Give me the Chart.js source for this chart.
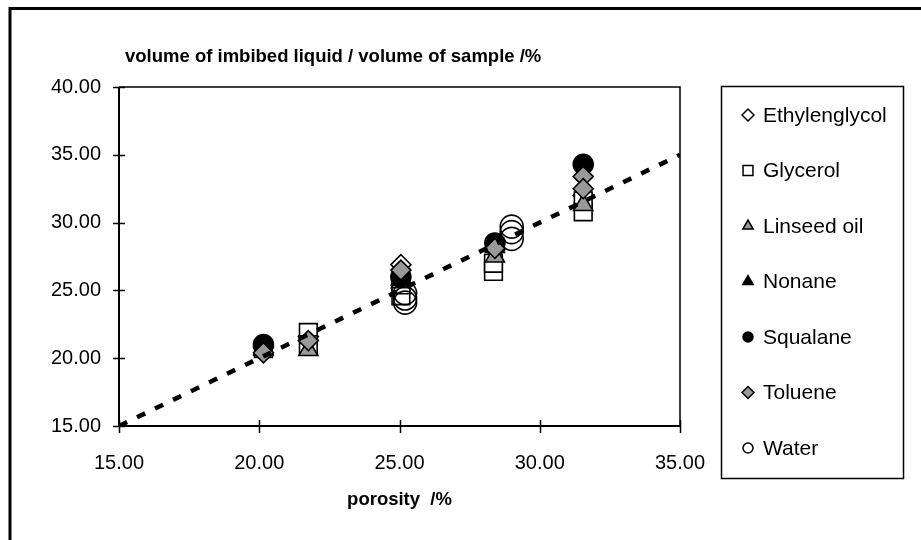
<!DOCTYPE html>
<html>
<head>
<meta charset="utf-8">
<script src="https://cdn.jsdelivr.net/npm/chart.js@4.4.1/dist/chart.umd.min.js"></script>
<style>
  html, body { margin: 0; padding: 0; background: #ffffff; }
  #wrap { width: 921px; height: 540px; position: relative; }
</style>
</head>
<body>
<div id="wrap"><canvas id="c" width="921" height="540"></canvas></div>
<script>
// ---- data ----
const seriesNames = ["Ethylenglycol", "Glycerol", "Linseed oil", "Nonane", "Squalane", "Toluene", "Water"];

const ethylenglycolX = [20.15, 21.75, 25.05, 28.40, 31.55];
const ethylenglycolY = [20.80, 21.60, 26.90, 28.00, 32.00];

const glycerolX = [20.15, 21.75, 21.75, 25.05, 25.05, 28.35, 28.35, 31.55, 31.55];
const glycerolY = [20.70, 21.90, 21.00, 24.60, 25.40, 26.40, 27.00, 30.80, 31.60];

const linseedX = [20.15, 21.75, 25.05, 28.40, 31.55];
const linseedY = [20.60, 20.60, 25.60, 27.50, 31.30];

const nonaneX = [20.15, 25.05, 28.40];
const nonaneY = [20.70, 25.80, 28.20];

const squalaneX = [20.15, 25.05, 28.40, 31.55];
const squalaneY = [21.00, 26.00, 28.50, 34.30];

const tolueneX = [20.15, 21.75, 25.05, 28.40, 31.55, 31.55];
const tolueneY = [20.40, 21.30, 26.50, 28.10, 33.40, 32.50];

const waterX = [25.20, 25.20, 25.20, 29.00, 29.00, 29.00];
const waterY = [24.10, 24.40, 24.80, 28.80, 29.30, 29.70];

const trendX = [15, 35];
const trendY = [15, 35];

const xTicks = [15, 20, 25, 30, 35];
const yTicks = [15, 20, 25, 30, 35, 40];

const titleText = "volume of imbibed liquid / volume of sample /%";
const xTitleText = "porosity  /%";

// ---- build ----
function pts(xs, ys) { return xs.map((x, i) => ({ x: x, y: ys[i] })); }

const GRAY = '#999999';
const FONT = "'Liberation Sans', Arial, sans-serif";

const styles = [
  { pointStyle: 'rectRot',  bg: '#ffffff', r: 10 },
  { pointStyle: 'rect',     bg: '#ffffff', r: 12.5 },
  { pointStyle: 'triangle', bg: GRAY,      r: 11 },
  { pointStyle: 'triangle', bg: '#000000', r: 11 },
  { pointStyle: 'circle',   bg: '#000000', r: 10 },
  { pointStyle: 'rectRot',  bg: GRAY,      r: 10 },
  { pointStyle: 'circle',   bg: 'rgba(0,0,0,0)', r: 11.5 }
];
const seriesData = [
  pts(ethylenglycolX, ethylenglycolY),
  pts(glycerolX, glycerolY),
  pts(linseedX, linseedY),
  pts(nonaneX, nonaneY),
  pts(squalaneX, squalaneY),
  pts(tolueneX, tolueneY),
  pts(waterX, waterY)
];

const datasets = seriesNames.map((name, i) => ({
  type: 'scatter',
  label: name,
  data: seriesData[i],
  pointStyle: styles[i].pointStyle,
  pointRadius: styles[i].r,
  pointHoverRadius: styles[i].r,
  pointBackgroundColor: styles[i].bg,
  pointBorderColor: '#000000',
  pointBorderWidth: 1.6,
  showLine: false,
  order: seriesNames.length - i   // later series drawn on top
}));

datasets.push({
  type: 'line',
  label: 'trend',
  data: pts(trendX, trendY),
  borderColor: '#000000',
  borderWidth: 4.5,
  borderDash: [9, 11],
  pointRadius: 0,
  fill: false,
  order: 0
});

const frame = {
  id: 'frame',
  beforeDraw(chart) {
    const ctx = chart.ctx;
    ctx.save();
    ctx.fillStyle = '#ffffff';
    ctx.fillRect(0, 0, chart.width, chart.height);
    ctx.strokeStyle = '#000000';
    ctx.lineWidth = 3;
    ctx.beginPath();
    ctx.moveTo(10, 545);
    ctx.lineTo(10, 8.5);
    ctx.lineTo(930, 8.5);
    ctx.stroke();
    ctx.restore();
  },
  afterDraw(chart) {
    const ctx = chart.ctx;
    const a = chart.chartArea;
    const xs = chart.scales.x, ys = chart.scales.y;
    ctx.save();
    ctx.strokeStyle = '#000000';
    ctx.lineWidth = 1.5;
    ctx.beginPath();
    ctx.moveTo(a.left, a.top);
    ctx.lineTo(a.right, a.top);
    ctx.lineTo(a.right, a.bottom);
    ctx.stroke();
    ctx.lineWidth = 2;
    ctx.beginPath();
    ctx.moveTo(a.left, a.top);
    ctx.lineTo(a.left, a.bottom);
    ctx.lineTo(a.right, a.bottom);
    ctx.stroke();
    ctx.lineWidth = 1.5;
    ctx.beginPath();
    xTicks.forEach(v => {
      const px = Math.round(xs.getPixelForValue(v)) + 0.5;
      ctx.moveTo(px, a.bottom - 6);
      ctx.lineTo(px, a.bottom + 7);
    });
    yTicks.forEach(v => {
      const py = Math.round(ys.getPixelForValue(v)) + 0.5;
      ctx.moveTo(a.left - 6, py);
      ctx.lineTo(a.left + 6, py);
    });
    ctx.stroke();
    ctx.fillStyle = '#000000';
    ctx.font = "bold 18.5px " + FONT;
    ctx.textBaseline = 'middle';
    ctx.textAlign = 'left';
    ctx.fillText(titleText, 125, 57);
    ctx.textAlign = 'center';
    ctx.fillText(xTitleText, (a.left + a.right) / 2, 500);

    const L = 721, T = 86, R = 903, B = 478;
    ctx.lineWidth = 1.5;
    ctx.strokeRect(L + 0.5, T + 0.5, R - L, B - T);
    ctx.font = "21px " + FONT;
    ctx.textAlign = 'left';
    seriesNames.forEach((name, i) => {
      const y = 115 + i * 55.5;
      const st = styles[i];
      ctx.save();
      ctx.fillStyle = st.bg;
      ctx.strokeStyle = '#000000';
      ctx.lineWidth = 1.5;
      const lr = st.pointStyle === 'rect' ? 7 : (st.pointStyle === 'circle' ? 5 : 6);
      if (Chart.helpers && Chart.helpers.drawPoint) {
        Chart.helpers.drawPoint(ctx, { pointStyle: st.pointStyle, radius: lr, rotation: 0, borderWidth: 1.5 }, 748, y);
      }
      ctx.restore();
      ctx.fillStyle = '#000000';
      ctx.fillText(name, 763, y + 1);
    });
    ctx.restore();
  }
};

new Chart(document.getElementById('c'), {
  data: { datasets: datasets },
  options: {
    responsive: false,
    animation: false,
    events: [],
    layout: { padding: { left: 0, right: 241, top: 87, bottom: 0 } },
    plugins: {
      legend: { display: false },
      title: { display: false },
      tooltip: { enabled: false }
    },
    scales: {
      x: {
        type: 'linear',
        min: 15, max: 35,
        afterBuildTicks: s => { s.ticks = xTicks.map(v => ({ value: v })); },
        afterFit: s => { s.height = 114; },
        grid: { display: false, drawOnChartArea: false },
        border: { display: false },
        ticks: {
          color: '#000000',
          font: { family: FONT, size: 20 },
          padding: 17,
          maxRotation: 0,
          callback: v => Number(v).toFixed(2)
        }
      },
      y: {
        type: 'linear',
        min: 15, max: 40,
        afterBuildTicks: s => { s.ticks = yTicks.map(v => ({ value: v })); },
        afterFit: s => { s.width = 119; },
        grid: { display: false, drawOnChartArea: false },
        border: { display: false },
        ticks: {
          color: '#000000',
          font: { family: FONT, size: 20 },
          padding: 10,
          callback: v => Number(v).toFixed(2)
        }
      }
    }
  },
  plugins: [frame]
});
</script>
</body>
</html>
